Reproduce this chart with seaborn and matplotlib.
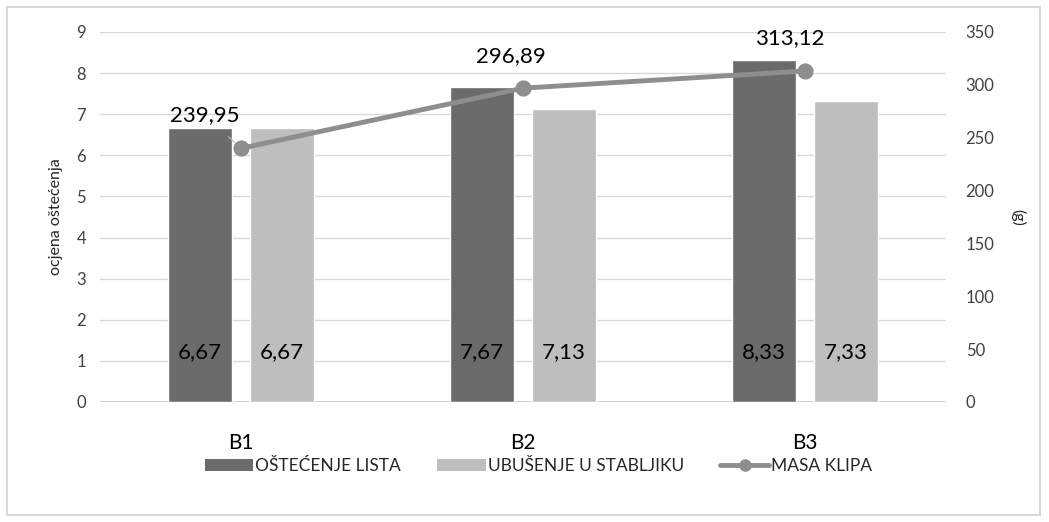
import numpy as np
import pandas as pd
import matplotlib.pyplot as plt
import seaborn as sns
from matplotlib.patches import Patch, Rectangle
from matplotlib.lines import Line2D

groups = ["B1", "B2", "B3"]
ostecenje_lista = [6.67, 7.67, 8.33]
ubusenje_stabljiku = [6.67, 7.13, 7.33]
masa_klipa = [239.95, 296.89, 313.12]
series_names = ["OŠTEĆENJE LISTA", "UBUŠENJE U STABLJIKU"]
line_name = "MASA KLIPA"

dark = "#6b6b6b"
light = "#bebebe"
line_col = "#8e8e8e"

sns.set_style("white")
plt.rcParams["font.family"] = ["Lato", "DejaVu Sans"]

df = pd.DataFrame({
    "grupa": groups * 2,
    "vrijednost": ostecenje_lista + ubusenje_stabljiku,
    "serija": [series_names[0]] * 3 + [series_names[1]] * 3,
})

fig = plt.figure(figsize=(10.49, 5.22), dpi=100)
ax = fig.add_axes([0.0953, 0.2299, 0.8067, 0.7088])

sns.barplot(data=df, x="grupa", y="vrijednost", hue="serija",
            palette=[dark, light], width=0.58, gap=0.22,
            saturation=1, ax=ax, legend=False)
ax.set_ylim(0, 9)
ax.set_xlim(-0.5, 2.5)
ax.set_yticks(range(10))
ax.grid(axis="y", color="#d9d9d9", linewidth=1)
ax.set_axisbelow(True)
for s in ax.spines.values():
    s.set_visible(False)
ax.axhline(0, color="#c8c8c8", linewidth=1.2, zorder=0)
ax.tick_params(length=0, labelsize=12, colors="#404040", pad=10)
ax.tick_params(axis="x", labelsize=15, colors="black", pad=22)
ax.set_xlabel("")
ax.set_ylabel("ocjena oštećenja", fontsize=11.5, labelpad=10)

# value labels inside bars
vals = ostecenje_lista + ubusenje_stabljiku
for p, v in zip(ax.patches, vals):
    ax.text(p.get_x() + p.get_width() / 2, 1.22, f"{v:.2f}".replace(".", ","),
            ha="center", va="center", fontsize=16, color="black")

ax2 = ax.twinx()
sns.pointplot(x=groups, y=masa_klipa, ax=ax2, color=line_col,
              markers="o", linewidth=3.5, markersize=9)
ax2.set_ylim(0, 350)
ax2.set_xlim(-0.5, 2.5)
ax2.set_yticks(range(0, 351, 50))
for s in ax2.spines.values():
    s.set_visible(False)
ax2.tick_params(length=0, labelsize=12, colors="#404040", pad=14)
ax2.set_ylabel("(g)", fontsize=11.5, rotation=270, labelpad=22)

offsets = [(-26, 24), (-9, 23), (-11, 24)]
for i, (v, off) in enumerate(zip(masa_klipa, offsets)):
    txt = f"{v:.2f}".replace(".", ",")
    ax2.annotate(txt, (i, v), xytext=off, textcoords="offset points",
                 ha="center", va="center", fontsize=16, color="black",
                 arrowprops=dict(arrowstyle="-", color="#bbbbbb", lw=0.8,
                                 shrinkA=9, shrinkB=6) if i == 0 else None)

handles = [Patch(facecolor=dark, edgecolor="none"),
           Patch(facecolor=light, edgecolor="none"),
           Line2D([0], [0], color=line_col, lw=3.5, marker="o", markersize=8)]
fig.legend(handles, series_names + [line_name], loc="center",
           bbox_to_anchor=(0.513, 0.107), ncol=3, frameon=False,
           fontsize=12.5, handlelength=2.8, handletextpad=0.1,
           columnspacing=2.1)

fig.patches.append(Rectangle((0.0067, 0.0134), 0.985, 0.973,
                             transform=fig.transFigure, fill=False,
                             edgecolor="#d9d9d9", linewidth=1.5))

fig.savefig("out.png", dpi=100)
